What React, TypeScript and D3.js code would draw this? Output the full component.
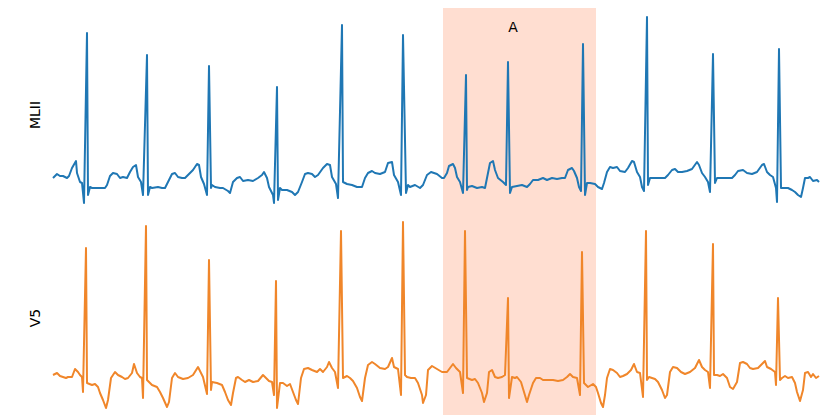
import React from "react";
import * as d3 from "d3";

// ECG excerpt, time in seconds, amplitude in mV
const mlii: [number, number][] = [
  [0.0, 0.02], [0.04, 0.06], [0.07, 0.04], [0.1, 0.04], [0.14, 0.02], [0.16, 0.04], [0.19, 0.12], [0.23, 0.19],
  [0.24, 0.07], [0.27, -0.02], [0.29, -0.03], [0.31, -0.23], [0.34, 1.47], [0.35, -0.15], [0.37, -0.07], [0.39, -0.08],
  [0.45, -0.08], [0.52, -0.08], [0.54, -0.05], [0.57, 0.04], [0.6, 0.07], [0.64, 0.06], [0.67, 0.02], [0.7, 0.03],
  [0.74, 0.02], [0.77, 0.08], [0.8, 0.13], [0.83, 0.15], [0.85, 0.03], [0.88, -0.02], [0.9, -0.15], [0.94, 1.25],
  [0.95, -0.15], [0.97, -0.07], [0.99, -0.08], [1.05, -0.07], [1.09, -0.08], [1.12, -0.08], [1.15, -0.02], [1.19, 0.06],
  [1.22, 0.07], [1.25, 0.03], [1.29, 0.02], [1.32, 0.02], [1.35, 0.05], [1.4, 0.1], [1.44, 0.16], [1.46, 0.15],
  [1.48, 0.03], [1.51, -0.04], [1.54, -0.15], [1.56, 1.14], [1.58, -0.08], [1.59, -0.05], [1.62, -0.07], [1.67, -0.08],
  [1.7, -0.08], [1.75, -0.11], [1.77, -0.13], [1.8, -0.02], [1.84, 0.02], [1.87, 0.03], [1.9, -0.01], [1.95, 0.0],
  [2.0, -0.01], [2.05, 0.02], [2.09, 0.05], [2.11, 0.08], [2.14, 0.02], [2.16, -0.07], [2.2, -0.15], [2.21, -0.23],
  [2.24, 0.93], [2.25, -0.2], [2.27, -0.08], [2.29, -0.1], [2.34, -0.1], [2.39, -0.12], [2.42, -0.15], [2.45, -0.12],
  [2.49, -0.02], [2.52, 0.06], [2.55, 0.07], [2.59, 0.06], [2.62, 0.03], [2.65, 0.05], [2.7, 0.12], [2.74, 0.16],
  [2.77, 0.15], [2.79, 0.03], [2.83, -0.04], [2.85, -0.18], [2.89, 1.55], [2.9, -0.02], [2.94, -0.04], [2.99, -0.05],
  [3.04, -0.07], [3.09, -0.07], [3.12, 0.02], [3.15, 0.07], [3.19, 0.09], [3.22, 0.07], [3.27, 0.06], [3.32, 0.08],
  [3.35, 0.17], [3.39, 0.18], [3.41, 0.05], [3.45, -0.02], [3.48, -0.15], [3.5, 1.45], [3.53, -0.13], [3.55, -0.05],
  [3.57, -0.07], [3.62, -0.05], [3.67, -0.08], [3.7, -0.05], [3.74, 0.05], [3.78, 0.08], [3.84, 0.06], [3.89, 0.02],
  [3.91, 0.02], [3.94, 0.07], [3.96, 0.14], [4.0, 0.16], [4.02, 0.12], [4.04, 0.03], [4.07, -0.02], [4.1, -0.13],
  [4.13, 1.05], [4.14, -0.1], [4.15, -0.07], [4.19, -0.06], [4.24, -0.08], [4.29, -0.07], [4.32, -0.08], [4.34, 0.02],
  [4.37, 0.17], [4.4, 0.19], [4.42, 0.1], [4.45, 0.02], [4.5, -0.02], [4.53, -0.05], [4.55, 1.18], [4.57, -0.13],
  [4.59, -0.07], [4.64, -0.06], [4.69, -0.05], [4.74, -0.07], [4.77, -0.04], [4.8, 0.0], [4.85, 0.0], [4.9, 0.02],
  [4.94, 0.0], [4.99, 0.02], [5.04, 0.01], [5.09, 0.02], [5.12, 0.02], [5.15, 0.1], [5.19, 0.12], [5.21, 0.09],
  [5.24, 0.02], [5.26, -0.07], [5.28, -0.11], [5.3, 1.36], [5.32, -0.15], [5.34, -0.03], [5.37, -0.03], [5.42, -0.04],
  [5.45, -0.07], [5.49, -0.09], [5.51, -0.03], [5.54, 0.08], [5.57, 0.13], [5.6, 0.12], [5.64, 0.13], [5.67, 0.09],
  [5.72, 0.08], [5.75, 0.12], [5.79, 0.19], [5.81, 0.18], [5.84, 0.08], [5.87, 0.03], [5.89, -0.07], [5.91, -0.11],
  [5.94, 1.63], [5.95, -0.05], [5.97, 0.02], [6.0, 0.02], [6.07, 0.02], [6.12, 0.02], [6.15, 0.05], [6.19, 0.1],
  [6.22, 0.11], [6.25, 0.08], [6.29, 0.08], [6.34, 0.09], [6.39, 0.11], [6.44, 0.18], [6.46, 0.15], [6.49, 0.07],
  [6.52, 0.03], [6.55, -0.02], [6.57, -0.12], [6.6, 1.26], [6.62, -0.03], [6.64, 0.02], [6.69, 0.02], [6.74, 0.02],
  [6.79, 0.02], [6.82, 0.05], [6.85, 0.09], [6.9, 0.1], [6.94, 0.07], [6.99, 0.06], [7.04, 0.08], [7.09, 0.15],
  [7.11, 0.16], [7.14, 0.08], [7.17, 0.05], [7.2, 0.03], [7.23, -0.08], [7.24, -0.22], [7.26, 1.31], [7.28, -0.08],
  [7.3, -0.08], [7.35, -0.08], [7.39, -0.1], [7.42, -0.12], [7.45, -0.15], [7.48, -0.17], [7.5, -0.08], [7.52, 0.02],
  [7.55, 0.02], [7.57, 0.03], [7.6, -0.01], [7.64, 0.0], [7.66, -0.02],
];

const v5: [number, number][] = [
  [0.0, 0.0], [0.04, 0.02], [0.07, -0.01], [0.1, -0.02], [0.13, -0.03], [0.15, -0.02], [0.19, -0.02], [0.22, 0.06],
  [0.25, 0.03], [0.27, 0.0], [0.29, -0.02], [0.3, -0.17], [0.33, 1.27], [0.34, -0.08], [0.39, -0.1], [0.42, -0.09],
  [0.45, -0.12], [0.47, -0.18], [0.5, -0.25], [0.53, -0.33], [0.55, -0.25], [0.58, -0.03], [0.62, 0.03], [0.65, 0.0],
  [0.69, -0.02], [0.72, -0.04], [0.75, -0.03], [0.79, 0.02], [0.81, 0.11], [0.84, 0.02], [0.87, -0.02], [0.89, -0.03],
  [0.9, -0.23], [0.93, 1.49], [0.94, -0.05], [0.99, -0.1], [1.04, -0.12], [1.07, -0.17], [1.1, -0.23], [1.14, -0.32],
  [1.16, -0.27], [1.19, -0.03], [1.22, 0.02], [1.25, -0.02], [1.3, -0.04], [1.35, -0.03], [1.4, 0.0], [1.45, 0.08],
  [1.47, 0.04], [1.5, -0.02], [1.54, -0.19], [1.56, 1.15], [1.58, -0.15], [1.59, -0.07], [1.64, -0.08], [1.69, -0.1],
  [1.72, -0.17], [1.75, -0.25], [1.78, -0.3], [1.8, -0.18], [1.83, -0.03], [1.85, -0.02], [1.89, -0.05], [1.92, -0.07],
  [1.96, -0.05], [2.0, -0.07], [2.05, -0.06], [2.1, 0.0], [2.13, -0.03], [2.16, -0.06], [2.19, -0.07], [2.21, -0.2],
  [2.23, 0.94], [2.24, -0.33], [2.27, -0.08], [2.3, -0.08], [2.34, -0.11], [2.37, -0.09], [2.4, -0.17], [2.43, -0.25],
  [2.45, -0.29], [2.48, -0.03], [2.51, 0.06], [2.55, 0.07], [2.59, 0.05], [2.64, 0.03], [2.67, 0.06], [2.7, 0.03],
  [2.74, 0.08], [2.76, 0.13], [2.79, 0.07], [2.82, 0.03], [2.85, -0.13], [2.88, 1.44], [2.9, -0.03], [2.94, -0.01],
  [2.97, -0.03], [3.0, -0.06], [3.04, -0.13], [3.07, -0.22], [3.09, -0.26], [3.12, -0.03], [3.15, 0.1], [3.19, 0.13],
  [3.22, 0.11], [3.27, 0.07], [3.32, 0.06], [3.35, 0.08], [3.39, 0.17], [3.41, 0.08], [3.45, 0.06], [3.48, -0.2],
  [3.5, 1.53], [3.52, 0.0], [3.54, -0.02], [3.58, -0.03], [3.62, -0.03], [3.65, -0.08], [3.69, -0.2], [3.7, -0.28],
  [3.73, -0.2], [3.75, 0.05], [3.79, 0.09], [3.84, 0.06], [3.89, 0.03], [3.94, 0.03], [3.97, 0.07], [4.0, 0.11],
  [4.03, 0.07], [4.07, 0.03], [4.1, -0.18], [4.12, 1.44], [4.14, -0.03], [4.19, -0.05], [4.22, -0.04], [4.25, -0.08],
  [4.29, -0.18], [4.31, -0.27], [4.34, -0.18], [4.36, 0.03], [4.39, 0.05], [4.42, -0.02], [4.45, -0.03], [4.49, -0.02],
  [4.52, 0.0], [4.55, 0.77], [4.56, -0.23], [4.59, -0.02], [4.62, -0.03], [4.64, -0.02], [4.68, -0.07], [4.71, -0.17],
  [4.74, -0.27], [4.76, -0.2], [4.8, -0.08], [4.83, -0.03], [4.87, -0.03], [4.9, -0.05], [4.95, -0.05], [5.0, -0.05],
  [5.05, -0.06], [5.1, -0.05], [5.14, -0.02], [5.17, 0.01], [5.2, -0.02], [5.24, -0.03], [5.27, -0.2], [5.29, 1.23],
  [5.31, -0.08], [5.35, -0.12], [5.4, -0.09], [5.43, -0.12], [5.45, -0.18], [5.48, -0.28], [5.5, -0.32], [5.52, -0.2],
  [5.54, -0.03], [5.57, 0.06], [5.6, 0.05], [5.64, 0.02], [5.67, -0.02], [5.7, -0.01], [5.74, 0.01], [5.78, 0.05],
  [5.81, 0.11], [5.84, 0.03], [5.87, 0.02], [5.9, -0.22], [5.93, 1.44], [5.94, -0.05], [5.96, -0.02], [5.99, -0.03],
  [6.02, -0.04], [6.05, -0.07], [6.09, -0.15], [6.12, -0.23], [6.14, -0.2], [6.17, 0.03], [6.2, 0.08], [6.24, 0.07],
  [6.28, 0.03], [6.32, 0.01], [6.37, 0.03], [6.42, 0.07], [6.46, 0.15], [6.49, 0.08], [6.52, 0.05], [6.55, 0.03],
  [6.57, -0.13], [6.6, 1.31], [6.61, 0.0], [6.64, 0.0], [6.67, -0.01], [6.7, 0.01], [6.74, -0.03], [6.77, -0.12],
  [6.8, -0.14], [6.84, -0.07], [6.87, 0.12], [6.9, 0.13], [6.94, 0.11], [6.97, 0.07], [7.0, 0.06], [7.05, 0.07],
  [7.09, 0.11], [7.12, 0.14], [7.14, 0.08], [7.18, 0.06], [7.22, 0.03], [7.23, -0.1], [7.25, 0.77], [7.27, -0.05],
  [7.29, -0.03], [7.32, -0.01], [7.35, -0.03], [7.39, -0.02], [7.42, -0.08], [7.44, -0.17], [7.47, -0.26], [7.5, -0.15],
  [7.52, 0.02], [7.55, 0.03], [7.58, -0.02], [7.6, 0.01], [7.63, -0.03], [7.66, -0.01],
];

const leads = ["MLII", "V5"];
const highlight = { start: 3.9, end: 5.43, label: "A", labelAt: 4.6 };
const timeExtent: [number, number] = [0, 7.67];

const W = 840;
const H = 415;
const COLORS = ["#1f77b4", "#f0862a"];

export default function App() {
  React.useEffect(() => {
    document.body.style.margin = "0";
  }, []);

  const x = d3.scaleLinear().domain(timeExtent).range([53, 820]);
  // each panel: pixel band, mV domain, and where its lead name sits
  const panels = [
    { series: mlii, y: d3.scaleLinear().domain([-0.28, 1.72]).range([208, 8]), labelY: 115 },
    { series: v5, y: d3.scaleLinear().domain([-0.4, 1.6]).range([415, 215]), labelY: 318 },
  ];

  return (
    <svg width={W} height={H} style={{ display: "block", fontFamily: "DejaVu Sans, sans-serif" }}>
      <rect
        x={x(highlight.start)}
        y={8}
        width={x(highlight.end) - x(highlight.start)}
        height={H - 8}
        fill="lightsalmon"
        fillOpacity={0.35}
      />
      <text x={x(highlight.labelAt)} y={32} textAnchor="middle" fontSize={14} fill="#000">
        {highlight.label}
      </text>
      {panels.map((p, i) => {
        const line = d3
          .line<[number, number]>()
          .x((d) => x(d[0]))
          .y((d) => p.y(d[1]));
        return (
          <g key={leads[i]}>
            <path d={line(p.series) ?? ""} fill="none" stroke={COLORS[i]} strokeWidth={2} strokeLinejoin="round" />
            <text
              transform={`translate(40,${p.labelY}) rotate(-90)`}
              textAnchor="middle"
              fontSize={14}
              fill="#000"
            >
              {leads[i]}
            </text>
          </g>
        );
      })}
    </svg>
  );
}
